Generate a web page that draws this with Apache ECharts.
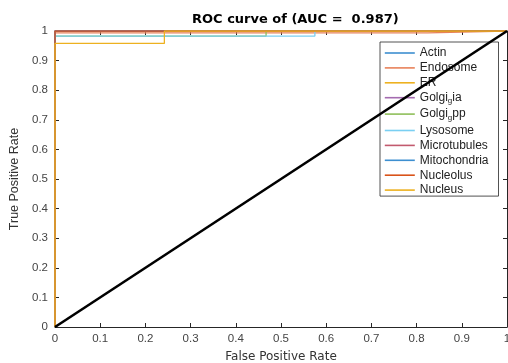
<!DOCTYPE html>
<html>
<head>
<meta charset="utf-8">
<script src="https://cdn.jsdelivr.net/npm/echarts@6/dist/echarts.min.js"></script>
<style>html,body{margin:0;padding:0;background:#fff;}#c{width:508px;height:363px;}</style>
</head>
<body>
<div id="c"></div>
<script>
var classNames = ['Actin','Endosome','ER','Golgi_gia','Golgi_gpp','Lysosome','Microtubules','Mitochondria','Nucleolus','Nucleus'];
var classColors = ['#3D8FD0','#E8825A','#EDB120','#A46BB0','#8FBF5A','#7ACFF2','#C25A6E','#3D8FD0','#D95319','#EDB120'];
var rocActin = [[0,0],[0,1],[1,1]];
var rocEndosome = [[0,0],[0,0.994],[0.825,0.994],[0.825,1],[1,1]];
var rocER = [[0,0],[0,1],[1,1]];
var rocGolgiGia = [[0,0],[0,1],[1,1]];
var rocGolgiGpp = [[0,0],[0,0.983],[0.467,0.983],[0.467,1],[1,1]];
var rocLysosome = [[0,0],[0,0.983],[0.575,0.983],[0.575,1],[1,1]];
var rocMicrotubules = [[0,0],[0,1],[1,1]];
var rocMitochondria = [[0,0],[0,1],[1,1]];
var rocNucleolus = [[0,0],[0,1],[1,1]];
var rocNucleus = [[0,0],[0,0.958],[0.242,0.958],[0.242,1],[1,1]];
var diagonal = [[0,0],[1,1]];
var tickValues = [0,0.1,0.2,0.3,0.4,0.5,0.6,0.7,0.8,0.9,1];
var titleText = 'ROC curve of (AUC =  0.987)';

var rocData = [rocActin,rocEndosome,rocER,rocGolgiGia,rocGolgiGpp,rocLysosome,rocMicrotubules,rocMitochondria,rocNucleolus,rocNucleus];

var chart = echarts.init(document.getElementById('c'));
var fmt = function(v){ var r = Math.round(v*10)/10; return String(r); };
var axisLineStyle = {color:'#262626', width:1};
var series = classNames.map(function(n,i){
  return {name:n, type:'line', data:rocData[i], showSymbol:false, symbol:'none',
    lineStyle:{color:classColors[i], width:1.3}, itemStyle:{color:classColors[i]}, animation:false, z:2};
});
series.push({name:'diag', type:'line', data:diagonal, showSymbol:false, symbol:'none',
  lineStyle:{color:'#000', width:2.6}, animation:false, z:10});

chart.setOption({
  animation:false,
  title:{text:titleText, left:192, top:13, padding:0,
    textStyle:{fontFamily:'DejaVu Sans', fontSize:13, fontWeight:'bold', color:'#000'}},
  grid:{left:55, right:1, top:31, bottom:36, outerBoundsMode:'none', containLabel:false},
  legend:{
    data:classNames, orient:'vertical', left:380, top:42,
    padding:[5,10,0,4], backgroundColor:'#fff', borderColor:'#262626', borderWidth:0.8, borderRadius:0,
    itemWidth:30, itemHeight:12, itemGap:2.9,
    itemStyle:{opacity:0},
    lineStyle:{width:1.6, inactiveWidth:1.6},
    textStyle:{fontFamily:'Liberation Sans, Arial', fontSize:12, color:'#222', padding:[0,0,0,0],
      rich:{a:{fontFamily:'Liberation Sans, Arial', fontSize:12, color:'#222'},
            s:{fontFamily:'Liberation Sans, Arial', fontSize:8, color:'#222', padding:[7,0,0,0]}}},
    formatter:function(n){
      if(n.indexOf('_g')>0){ var p=n.split('_g'); return '{a|'+p[0]+'}{s|g}{a|'+p[1]+'}'; }
      return n;
    }
  },
  xAxis:[
    {type:'value', min:0, max:1, interval:0.1, position:'bottom',
     name:'False Positive Rate', nameLocation:'middle', nameGap:24,
     nameTextStyle:{fontFamily:'DejaVu Sans', fontSize:12, color:'#333'},
     axisLine:{show:true, onZero:false, lineStyle:axisLineStyle},
     axisTick:{show:true, inside:true, length:4, lineStyle:axisLineStyle},
     axisLabel:{formatter:fmt, fontFamily:'Liberation Sans, Arial', fontSize:11.5, color:'#444', margin:6},
     splitLine:{show:false}},
    {type:'value', min:0, max:1, interval:0.1, position:'top',
     axisLine:{show:true, onZero:false, lineStyle:axisLineStyle},
     axisTick:{show:true, inside:true, length:4, lineStyle:axisLineStyle},
     axisLabel:{show:false}, splitLine:{show:false}}
  ],
  yAxis:[
    {type:'value', min:0, max:1, interval:0.1, position:'left',
     name:'True Positive Rate', nameLocation:'middle', nameGap:32,
     nameTextStyle:{fontFamily:'Liberation Sans, Arial', fontSize:12.5, color:'#333'},
     axisLine:{show:true, onZero:false, lineStyle:axisLineStyle},
     axisTick:{show:true, inside:true, length:4, lineStyle:axisLineStyle},
     axisLabel:{formatter:fmt, fontFamily:'Liberation Sans, Arial', fontSize:11.5, color:'#444', margin:7},
     splitLine:{show:false}},
    {type:'value', min:0, max:1, interval:0.1, position:'right',
     axisLine:{show:true, onZero:false, lineStyle:axisLineStyle},
     axisTick:{show:true, inside:true, length:4, lineStyle:axisLineStyle},
     axisLabel:{show:false}, splitLine:{show:false}}
  ],
  series:series
});
</script>
</body>
</html>
